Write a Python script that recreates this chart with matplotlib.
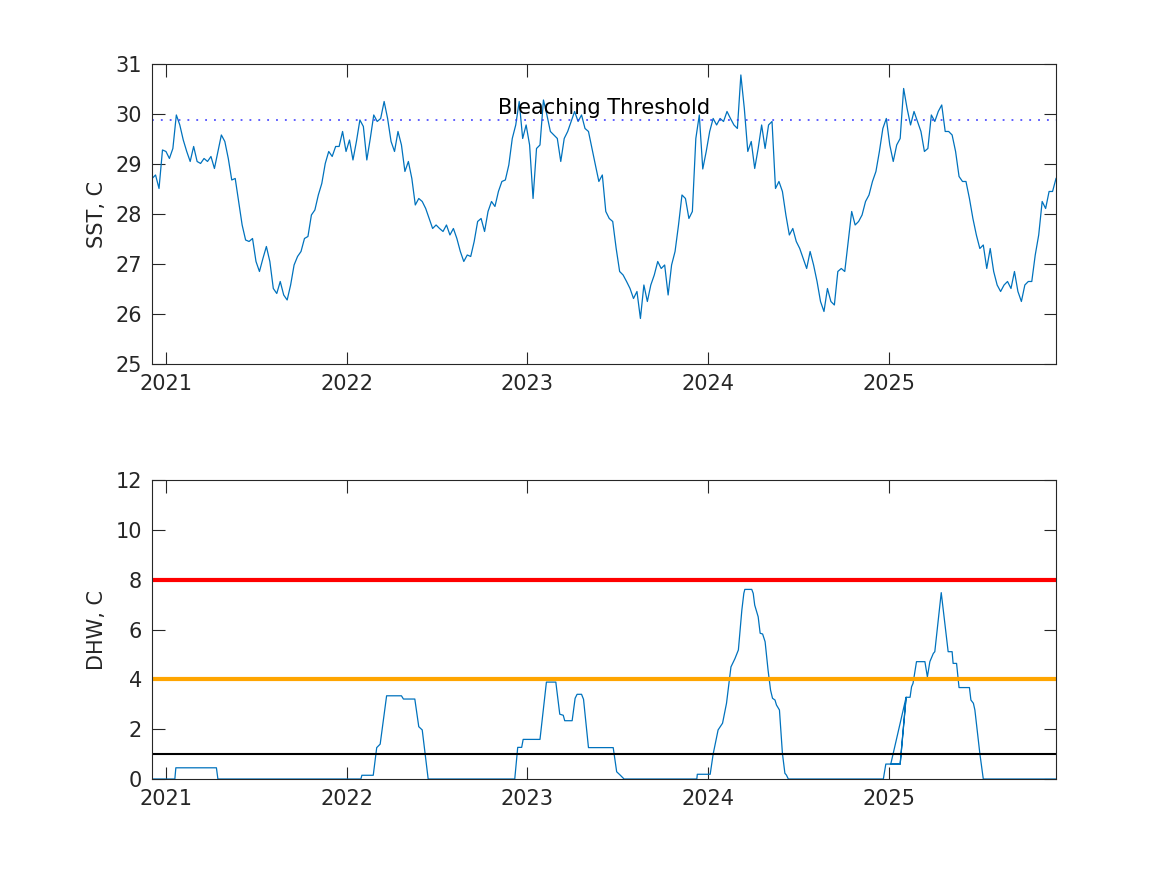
import numpy as np
import matplotlib
matplotlib.use("Agg")
import matplotlib.pyplot as plt
import matplotlib.dates as mdates

# weekly SST readings, first sample 2020-12-04
sst_start = "2020-12-04"
sst = [
    28.71, 28.78, 28.51, 29.28, 29.25, 29.11, 29.31, 29.98, 29.78, 29.48,
    29.25, 29.05, 29.35, 29.05, 29.01, 29.11, 29.05, 29.15, 28.91, 29.25,
    29.58, 29.45, 29.11, 28.68, 28.71, 28.25, 27.78, 27.48, 27.45, 27.51,
    27.05, 26.85, 27.11, 27.35, 27.05, 26.51, 26.41, 26.65, 26.38, 26.28,
    26.58, 26.98, 27.15, 27.25, 27.51, 27.55, 27.98, 28.08, 28.38, 28.61,
    29.01, 29.25, 29.15, 29.35, 29.35, 29.65, 29.25, 29.48, 29.08, 29.45,
    29.88, 29.75, 29.08, 29.51, 29.98, 29.85,
    29.91, 30.25, 29.91, 29.45, 29.25, 29.65, 29.38, 28.85, 29.05, 28.71,
    28.18, 28.31, 28.25, 28.11, 27.91, 27.71, 27.78, 27.71, 27.65, 27.78,
    27.58, 27.71, 27.51, 27.25, 27.05, 27.18, 27.15, 27.45, 27.85, 27.91,
    27.65, 28.05, 28.25, 28.15, 28.45, 28.65, 28.68, 28.98, 29.51, 29.78,
    30.25, 29.51, 29.78, 29.38, 28.31, 29.31, 29.38, 30.28, 29.98, 29.65,
    29.58, 29.51, 29.05, 29.51, 29.65, 29.85, 30.05, 29.85, 29.98, 29.71,
    29.65, 29.31, 28.98, 28.65,
    28.78, 28.05, 27.91, 27.85, 27.31, 26.85, 26.78, 26.65, 26.51, 26.31,
    26.45, 25.91, 26.58, 26.25, 26.58, 26.78, 27.05, 26.91, 26.98, 26.38,
    26.98, 27.25, 27.78, 28.38, 28.31, 27.91, 28.05, 29.51, 29.98, 28.90,
    29.25, 29.65, 29.91, 29.78, 29.91, 29.85, 30.05, 29.91, 29.78, 29.71,
    30.78, 30.11, 29.25, 29.45, 28.91, 29.31, 29.78, 29.31, 29.78, 29.85,
    28.51, 28.65, 28.45, 27.98, 27.58, 27.71, 27.45, 27.31, 27.11, 26.91,
    27.25, 26.98, 26.65, 26.25, 26.05, 26.51, 26.25,
    26.18, 26.85, 26.91, 26.85, 27.45, 28.05, 27.78, 27.85, 27.98, 28.25,
    28.38, 28.65, 28.85, 29.25, 29.71, 29.91, 29.38, 29.05, 29.38, 29.51,
    30.51, 30.11, 29.78, 30.05, 29.85, 29.65, 29.25, 29.31, 29.98, 29.85,
    30.05, 30.18, 29.65, 29.65, 29.58, 29.25, 28.75, 28.65, 28.65, 28.31,
    27.91, 27.58, 27.31, 27.38, 26.91, 27.31, 26.85, 26.58, 26.45, 26.58,
    26.65, 26.51, 26.85, 26.45, 26.25, 26.58, 26.65, 26.65, 27.18, 27.58,
    28.25, 28.11, 28.45, 28.45, 28.71,
]
bleach_threshold = 29.87

# degree heating weeks: days since 2021-01-01 and value
dhw_day = [
    -28, 18, 20, 102, 105,
    394, 396, 419, 426, 433, 446, 476, 480, 503, 511, 518, 530,
    705, 711, 719, 722, 756, 769, 788, 796, 803, 806, 821, 827, 831, 840,
    844, 854, 904, 911, 918, 926,
    1073, 1074, 1100, 1106, 1116, 1125, 1133, 1142, 1150, 1157, 1164, 1168,
    1170, 1184, 1187, 1190, 1197, 1201, 1206, 1211, 1217, 1222, 1226, 1231,
    1234, 1240, 1246, 1251, 1254, 1258,
    1450, 1455, 1484, 1496, 1465, 1484, 1496, 1504, 1507, 1510, 1517, 1534,
    1539, 1544, 1551, 1554, 1567, 1581, 1589, 1591, 1598, 1603, 1624, 1627,
    1632, 1635, 1645, 1652, 1799,
]
dhw = [
    0, 0, 0.45, 0.45, 0,
    0, 0.15, 0.15, 1.26, 1.4, 3.34, 3.34, 3.21, 3.21, 2.1, 1.97, 0,
    0, 1.27, 1.27, 1.59, 1.59, 3.89, 3.89, 2.6, 2.56, 2.34, 2.34, 3.24, 3.4, 3.4,
    3.2, 1.26, 1.26, 0.29, 0.16, 0,
    0, 0.19, 0.19, 1.0, 1.97, 2.24, 3.04, 4.5, 4.83, 5.18, 6.78, 7.45,
    7.61, 7.61, 7.45, 6.98, 6.51, 5.85, 5.82, 5.51, 4.37, 3.57, 3.24, 3.17,
    2.97, 2.77, 1.03, 0.23, 0.16, 0,
    0, 0.6, 0.6, 3.28, 0.6, 0.6, 3.28, 3.28, 3.7, 3.84, 4.71, 4.71,
    4.1, 4.71, 5.04, 5.11, 7.48, 5.11, 5.11, 4.64, 4.64, 3.67, 3.67, 3.17,
    3.04, 2.77, 1.03, 0, 0,
]
dhw_levels = [1, 4, 8]
dhw_colors = ["black", "orange", "red"]
dhw_widths = [1.5, 3, 3]

BLUE = "#0072BD"
AXC = "#262626"

base = mdates.date2num(np.datetime64("2021-01-01"))
sst_x = mdates.date2num(np.datetime64(sst_start)) + 7 * np.arange(len(sst))
dhw_x = base + np.array(dhw_day, dtype=float)
xlim = (base - 28.3, base + 1799)

plt.rcParams["font.family"] = "DejaVu Sans"
plt.rcParams["font.size"] = 15

fig = plt.figure(figsize=(11.67, 8.75), dpi=100)
ax1 = fig.add_axes([0.1302, 0.5840, 0.7747, 0.3429])
ax2 = fig.add_axes([0.1302, 0.1097, 0.7747, 0.3417])

ax1.plot(sst_x, sst, color=BLUE, lw=0.9)
ax1.axhline(bleach_threshold, color="#3333ff", lw=1.1, linestyle=(0, (1.2, 4.6)))
ax1.text(base + 671, 30.12, "Bleaching Threshold", ha="left", va="center", fontsize=15)
ax1.set_ylim(25, 31)
ax1.set_yticks(range(25, 32))
ax1.set_ylabel("SST, C", labelpad=6)

ax2.plot(dhw_x, dhw, color=BLUE, lw=0.9)
for lev, c, w in zip(dhw_levels, dhw_colors, dhw_widths):
    ax2.axhline(lev, color=c, lw=w)
ax2.set_ylim(0, 12)
ax2.set_yticks(range(0, 13, 2))
ax2.set_ylabel("DHW, C", labelpad=6)

for ax in (ax1, ax2):
    ax.set_xlim(*xlim)
    ax.xaxis.set_major_locator(mdates.YearLocator())
    ax.xaxis.set_major_formatter(mdates.DateFormatter("%Y"))
    ax.tick_params(direction="in", length=9, width=0.8, colors=AXC,
                   top=True, right=True, pad=7, labelsize=15)
    for s in ax.spines.values():
        s.set_color(AXC)
        s.set_linewidth(0.8)
    ax.yaxis.label.set_color(AXC)

fig.savefig("out.png", dpi=100, facecolor="white")
